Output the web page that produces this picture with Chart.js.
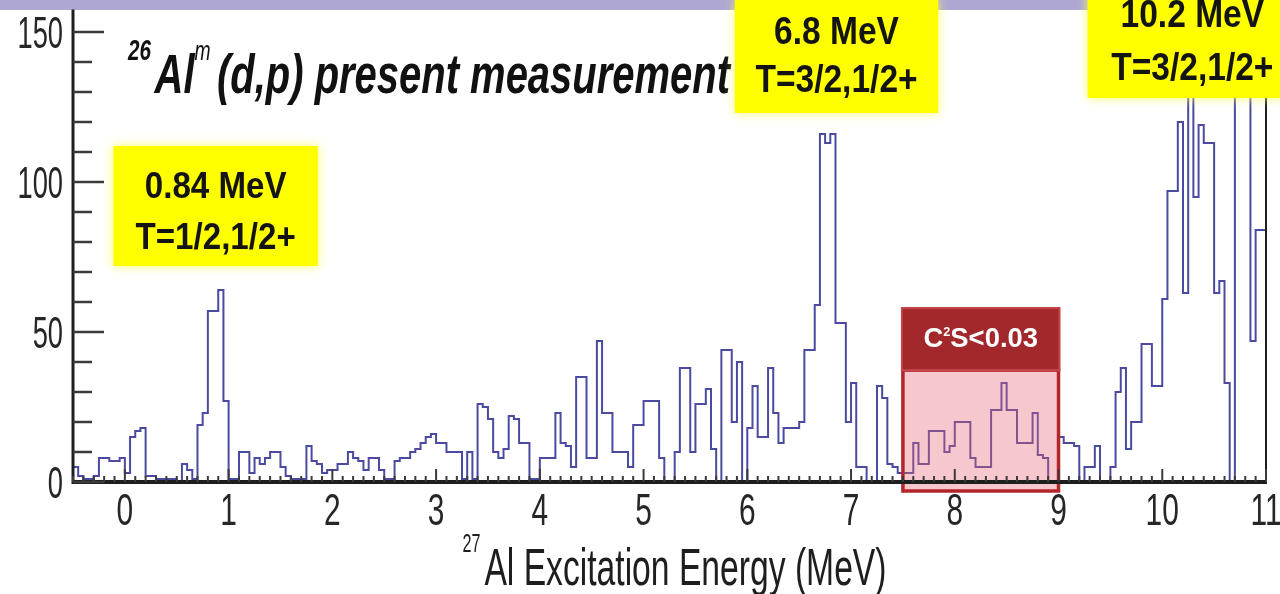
<!DOCTYPE html>
<html>
<head>
<meta charset="utf-8">
<title>26Al(m)(d,p) excitation energy spectrum</title>
<script src="https://cdn.jsdelivr.net/npm/chart.js@4.4.1/dist/chart.umd.min.js"></script>
<style>
  html, body { margin: 0; padding: 0; background: #ffffff; }
  #wrap { width: 1280px; height: 594px; }
  canvas { display: block; }
</style>
</head>
<body>
<div id="wrap"><canvas id="spectrum" width="1280" height="594"></canvas></div>
<script>
// Histogram binning (MeV)
const histMin = -0.5;
const binWidth = 0.05;

// Counts per 0.05 MeV bin, one row per MeV starting at -0.5 MeV
const counts = [
  5, 2, 1, 1, 2, 8, 8, 7, 7, 8,   3, 15, 17, 18, 2, 2, 1, 1, 1, 1,
  0, 6, 4, 1, 19, 23, 57, 57, 64, 27,   1, 1, 10, 10, 3, 8, 6, 8, 10, 10,
  5, 2, 1, 1, 1, 12, 7, 6, 3, 4,   4, 6, 6, 10, 8, 7, 4, 8, 8, 4,
  1, 1, 7, 8, 8, 10, 11, 13, 15, 16,   13, 13, 10, 10, 10, 1, 10, 1, 26, 25,
  21, 10, 8, 11, 22, 21, 13, 13, 1, 1,   8, 8, 8, 23, 13, 12, 5, 35, 35, 8,
  8, 47, 23, 23, 10, 10, 10, 5, 19, 19,   27, 27, 27, 8, 0, 0, 10, 38, 38, 10,
  26, 26, 31, 11, 0, 44, 44, 20, 40, 0,   18, 32, 15, 15, 38, 23, 13, 18, 18, 18,
  20, 44, 44, 59, 116, 113, 116, 53, 53, 20,   33, 5, 5, 0, 0, 32, 28, 6, 5, 3,
  3, 3, 13, 6, 6, 17, 17, 17, 10, 12,   20, 20, 20, 8, 5, 5, 5, 24, 24, 33,
  24, 24, 13, 13, 13, 23, 9, 8, 0, 0,   15, 13, 13, 12, 0, 5, 5, 12, 0, 0,
  5, 30, 38, 11, 20, 20, 46, 46, 32, 32,   61, 97, 97, 120, 63, 140, 95, 119, 113, 113,
  63, 67, 33, 0, 150, 150, 150, 47, 84, 84
];

// Axis ticks
const xTickValues = [0, 1, 2, 3, 4, 5, 6, 7, 8, 9, 10, 11];
const xTickLabels = ['0', '1', '2', '3', '4', '5', '6', '7', '8', '9', '10', '11'];
const yTickValues = [0, 50, 100, 150];
const yTickLabels = ['0', '50', '100', '150'];
const yMinorValues = [10, 20, 30, 40, 60, 70, 80, 90, 110, 120, 130, 140];

// Level annotations
const levelNames = ['0.84 MeV', '6.8 MeV', '10.2 MeV'];
const levelSpins = ['T=1/2,1/2+', 'T=3/2,1/2+', 'T=3/2,1/2+'];

// Spectroscopic-factor limit window (MeV)
const windowRange = [7.5, 9.0];
const windowText = ['C', '2', 'S<0.03'];

// Step points: left edge of every bin, plus the closing edge of the last bin
const stepPoints = counts.map((c, i) => ({ x: histMin + i * binWidth, y: c }));
stepPoints.push({ x: histMin + counts.length * binWidth, y: counts[counts.length - 1] });

const FONT = '"Liberation Sans", Arial, Helvetica, sans-serif';

// Draws a row of text runs squeezed horizontally by sx
function drawRuns(ctx, runs, x, y, sx, align, color) {
  ctx.save();
  const widths = runs.map(r => { ctx.font = r.font; return ctx.measureText(r.t).width + (r.gap || 0); });
  const total = widths.reduce((a, b) => a + b, 0) * sx;
  const start = align === 'center' ? x - total / 2 : (align === 'right' ? x - total : x);
  ctx.translate(start, y);
  ctx.scale(sx, 1);
  ctx.textAlign = 'left';
  ctx.textBaseline = 'alphabetic';
  let cx = 0;
  runs.forEach((r, i) => {
    ctx.font = r.font;
    ctx.fillStyle = r.color || color;
    ctx.fillText(r.t, cx, r.dy || 0);
    cx += widths[i];
  });
  ctx.restore();
}

// Same, but stretched or squeezed so the row spans exactly `width` pixels
function fitRuns(ctx, runs, x, y, width, align, color) {
  ctx.save();
  const natural = runs.reduce((s, r) => { ctx.font = r.font; return s + ctx.measureText(r.t).width + (r.gap || 0); }, 0);
  ctx.restore();
  drawRuns(ctx, runs, x, y, width / natural, align, color);
}

const decor = {
  id: 'decor',
  beforeDraw(chart) {
    const { ctx, width, height } = chart;
    ctx.save();
    ctx.fillStyle = '#ffffff';
    ctx.fillRect(0, 0, width, height);
    ctx.fillStyle = '#aea7d2';
    ctx.fillRect(0, 0, width, 10);
    ctx.restore();
  },
  afterDatasetsDraw(chart) {
    const { ctx, chartArea: ca, scales } = chart;
    const xs = scales.x, ys = scales.y;

    // --- shaded window 7.5-9.0 MeV with its caption
    const wx0 = xs.getPixelForValue(windowRange[0]);
    const wx1 = xs.getPixelForValue(windowRange[1]);
    const bodyTop = ys.getPixelForValue(37.3);
    const bodyBottom = ca.bottom + 9;
    const headTop = ys.getPixelForValue(58);
    ctx.save();
    ctx.fillStyle = 'rgba(232, 100, 120, 0.36)';
    ctx.fillRect(wx0, bodyTop, wx1 - wx0, bodyBottom - bodyTop);
    ctx.strokeStyle = '#b3262b';
    ctx.lineWidth = 3.5;
    ctx.strokeRect(wx0, bodyTop, wx1 - wx0, bodyBottom - bodyTop);
    ctx.fillStyle = '#a2282b';
    ctx.fillRect(wx0 - 1, headTop, wx1 - wx0 + 2, bodyTop - headTop);
    ctx.strokeStyle = '#c4454a';
    ctx.lineWidth = 2;
    ctx.strokeRect(wx0 - 1, headTop, wx1 - wx0 + 2, bodyTop - headTop);
    ctx.restore();
    drawRuns(ctx, [
      { t: windowText[0], font: 'bold 28px ' + FONT },
      { t: windowText[1], font: 'bold 13px ' + FONT, dy: -11 },
      { t: windowText[2], font: 'bold 28px ' + FONT }
    ], (wx0 + wx1) / 2, headTop + 39, 0.98, 'center', '#ffffff');

    // --- axes
    ctx.save();
    ctx.strokeStyle = '#1e1e1e';
    ctx.lineCap = 'butt';
    ctx.lineWidth = 3;
    ctx.beginPath();
    ctx.moveTo(ca.left, ca.top);
    ctx.lineTo(ca.left, ca.bottom + 2);
    ctx.stroke();
    ctx.lineWidth = 2;
    ctx.beginPath();
    ctx.moveTo(ca.right, ca.top);
    ctx.lineTo(ca.right, ca.bottom);
    ctx.stroke();
    ctx.lineWidth = 4;
    ctx.beginPath();
    ctx.moveTo(ca.left - 1, ca.bottom);
    ctx.lineTo(ca.right + 1, ca.bottom);
    ctx.stroke();

    // y ticks point into the frame
    ctx.strokeStyle = '#3a3a3a';
    ctx.lineWidth = 2.5;
    yTickValues.forEach(v => {
      const py = ys.getPixelForValue(v);
      ctx.beginPath(); ctx.moveTo(ca.left, py); ctx.lineTo(ca.left + 31, py); ctx.stroke();
    });
    yMinorValues.forEach(v => {
      const py = ys.getPixelForValue(v);
      ctx.beginPath(); ctx.moveTo(ca.left, py); ctx.lineTo(ca.left + 19, py); ctx.stroke();
    });

    // x ticks point up from the axis
    ctx.lineWidth = 2;
    for (let k = Math.ceil(xs.min * 10); k <= Math.floor(xs.max * 10); k++) {
      const len = (k % 10 === 0) ? 13 : 6;
      const px = xs.getPixelForValue(k / 10);
      ctx.beginPath(); ctx.moveTo(px, ca.bottom); ctx.lineTo(px, ca.bottom - len); ctx.stroke();
    }
    ctx.restore();

    // tick labels
    const tickFont = '44px ' + FONT;
    yTickValues.forEach((v, i) => {
      drawRuns(ctx, [{ t: yTickLabels[i], font: tickFont }], ca.left - 10, ys.getPixelForValue(v) + 16, 0.62, 'right', '#262626');
    });
    xTickValues.forEach((v, i) => {
      drawRuns(ctx, [{ t: xTickLabels[i], font: tickFont }], xs.getPixelForValue(v), ca.bottom + 43, 0.68, 'center', '#262626');
    });

    // axis title
    fitRuns(ctx, [
      { t: '27', font: '25px ' + FONT, dy: -33, gap: 6 },
      { t: 'Al Excitation Energy (MeV)', font: '52px ' + FONT }
    ], (ca.left + ca.right) / 2 + 5, ca.bottom + 103, 424, 'center', '#1e1e1e');

    // reaction title
    fitRuns(ctx, [
      { t: '26', font: 'bold italic 29px ' + FONT, dy: -33, gap: 5 },
      { t: 'Al', font: 'bold italic 56px ' + FONT },
      { t: 'm', font: 'italic 27px ' + FONT, dy: -33, gap: 9 },
      { t: '(d,p) present measurement', font: 'bold italic 56px ' + FONT }
    ], xs.getPixelForValue(0.03), ys.getPixelForValue(129.7), 602, 'left', '#111111');

    // level labels on yellow cards
    const cards = [
      { x0: -0.11, x1: 1.86, top: 112, bottom: 72, base1: 52, base2: 103, size: 36, sx: 0.92 },
      { x0: 5.88, x1: 7.84, top: 161, bottom: 123, base1: 45, base2: 93, size: 39, sx: 0.86 },
      { x0: 9.28, x1: 11.3, top: 165.7, bottom: 128, base1: 42, base2: 95, size: 39, sx: 0.86 }
    ];
    cards.forEach((c, i) => {
      const l = xs.getPixelForValue(c.x0), r = xs.getPixelForValue(c.x1);
      const t = ys.getPixelForValue(c.top), b = ys.getPixelForValue(c.bottom);
      ctx.save();
      ctx.shadowColor = 'rgba(255, 255, 90, 0.9)';
      ctx.shadowBlur = 10;
      ctx.fillStyle = '#ffff00';
      ctx.fillRect(l, t, r - l, b - t);
      ctx.restore();
      const cx = (l + r) / 2;
      const font = 'bold ' + c.size + 'px ' + FONT;
      drawRuns(ctx, [{ t: levelNames[i], font }], cx, t + c.base1, c.sx, 'center', '#141414');
      drawRuns(ctx, [{ t: levelSpins[i], font }], cx, t + c.base2, c.sx, 'center', '#141414');
    });
  }
};

new Chart(document.getElementById('spectrum'), {
  type: 'line',
  data: {
    datasets: [{
      label: 'counts',
      data: stepPoints,
      stepped: true,
      borderColor: '#4a4aa0',
      borderWidth: 2,
      pointRadius: 0,
      fill: false,
      tension: 0
    }]
  },
  options: {
    responsive: false,
    devicePixelRatio: 1,
    animation: false,
    events: [],
    layout: { padding: { left: 73, right: 14, top: 9.5, bottom: 112 } },
    plugins: { legend: { display: false }, tooltip: { enabled: false } },
    scales: {
      x: { type: 'linear', min: -0.5, max: 11, display: false },
      y: { type: 'linear', min: 0, max: 157.5, display: false }
    }
  },
  plugins: [decor]
});
</script>
</body>
</html>
